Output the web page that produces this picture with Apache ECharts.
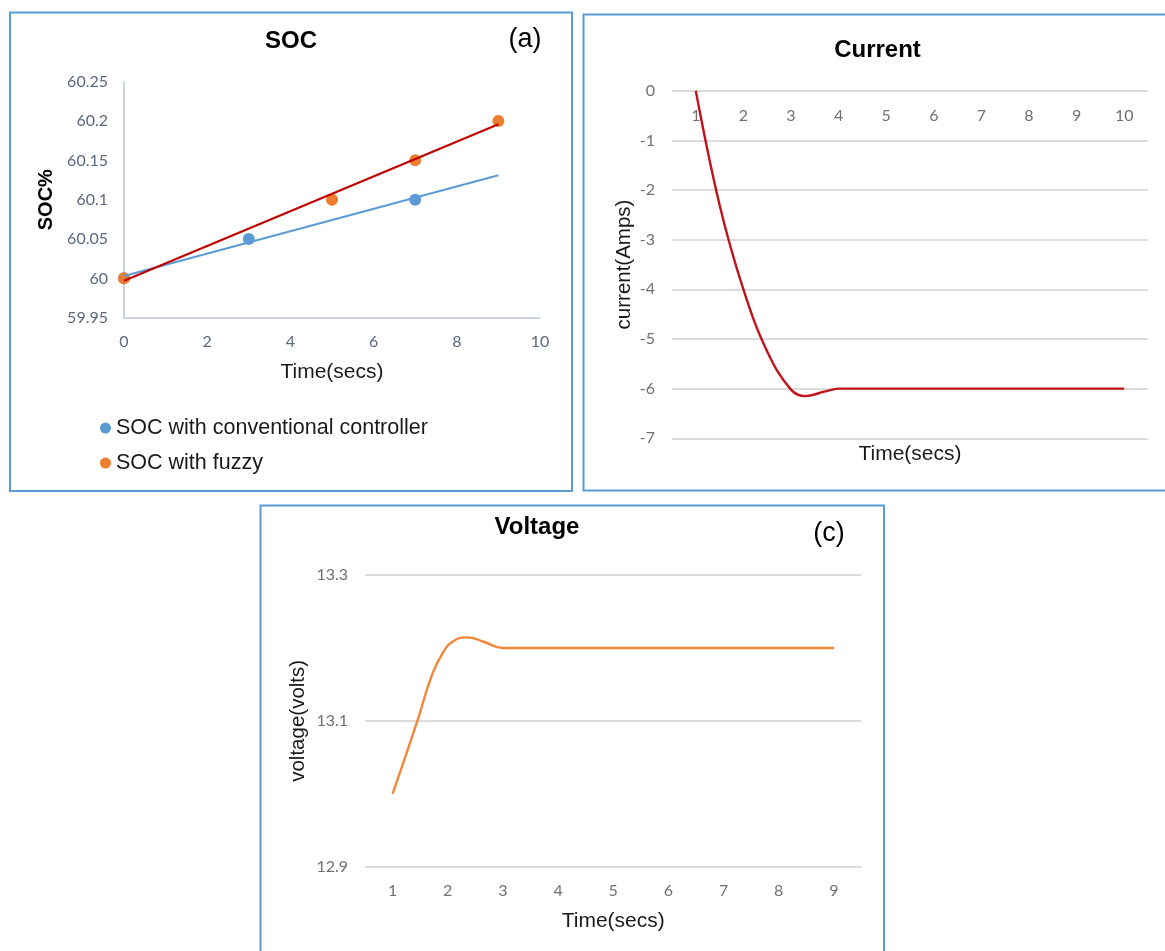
<!DOCTYPE html>
<html>
<head>
<meta charset="utf-8">
<script src="https://cdn.jsdelivr.net/npm/echarts@6/dist/echarts.min.js"></script>
<style>
  html, body { margin: 0; padding: 0; background: #ffffff; }
  #chart { width: 1165px; height: 951px; }
</style>
</head>
<body>
<div id="chart"></div>
<script>
// ---- Panel (a): SOC ----
const socConvTime = [0, 3, 7];
const socConvValue = [60, 60.05, 60.1];
const socFuzzyTime = [0, 5, 7, 9];
const socFuzzyValue = [60, 60.1, 60.15, 60.2];
const trendTime = [0, 9];
const socConvTrend = [60.003, 60.131];
const socFuzzyTrend = [59.997, 60.196];
const socXTicks = [0, 2, 4, 6, 8, 10];
const socYTicks = [59.95, 60, 60.05, 60.1, 60.15, 60.2, 60.25];

// ---- Panel (b): Current ----
const currentTime = [1, 1.5, 2, 2.5, 3, 3.3, 3.7, 4, 5, 6, 7, 8, 9, 10];
const currentValue = [0, -2.3, -4, -5.25, -6.02, -6.15, -6.06, -6, -6, -6, -6, -6, -6, -6];
const currentTicks = [1, 2, 3, 4, 5, 6, 7, 8, 9, 10];

// ---- Panel (c): Voltage ----
const voltageTime = [1, 1.45, 1.7, 1.9, 2.1, 2.35, 2.65, 3, 4, 5, 6, 7, 8, 9];
const voltageValue = [13.0, 13.1, 13.16, 13.192, 13.209, 13.2145, 13.2085, 13.2, 13.2, 13.2, 13.2, 13.2, 13.2, 13.2];
const voltageTicks = [1, 2, 3, 4, 5, 6, 7, 8, 9];

const zip = (xs, ys) => xs.map((x, i) => [x, ys[i]]);

const TICK_FONT = 'Lato, "Open Sans", sans-serif';
const TEXT_FONT = '"Liberation Sans", Arial, sans-serif';
const BORDER = '#5b9bd5';
const GRID_LINE = '#dcdcdc';

const chart = echarts.init(document.getElementById('chart'), null, { renderer: 'canvas' });

const tickLabel = (color, margin) => ({
  color: color, fontFamily: TICK_FONT, fontSize: 16, margin: margin
});

const option = {
  backgroundColor: '#ffffff',
  animation: false,
  graphic: [
    { type: 'rect', silent: true, z: -10, shape: { x: 10, y: 12.5, width: 562, height: 478.5 },
      style: { fill: 'none', stroke: BORDER, lineWidth: 2 } },
    { type: 'rect', silent: true, z: -10, shape: { x: 583.5, y: 14.5, width: 600, height: 476 },
      style: { fill: 'none', stroke: BORDER, lineWidth: 2 } },
    { type: 'rect', silent: true, z: -10, shape: { x: 260.5, y: 505.5, width: 623.5, height: 460 },
      style: { fill: 'none', stroke: BORDER, lineWidth: 2 } },
    { type: 'text', silent: true, x: 291, y: 41,
      style: { text: 'SOC', font: 'bold 24px ' + TEXT_FONT, fill: '#000', align: 'center', verticalAlign: 'middle' } },
    { type: 'text', silent: true, x: 525, y: 40,
      style: { text: '(a)', font: '27px ' + TEXT_FONT, fill: '#000', align: 'center', verticalAlign: 'middle' } },
    { type: 'text', silent: true, x: 877.5, y: 50,
      style: { text: 'Current', font: 'bold 24px ' + TEXT_FONT, fill: '#000', align: 'center', verticalAlign: 'middle' } },
    { type: 'text', silent: true, x: 537, y: 527,
      style: { text: 'Voltage', font: 'bold 24px ' + TEXT_FONT, fill: '#000', align: 'center', verticalAlign: 'middle' } },
    { type: 'text', silent: true, x: 829, y: 534,
      style: { text: '(c)', font: '27px ' + TEXT_FONT, fill: '#000', align: 'center', verticalAlign: 'middle' } }
  ],
  legend: {
    data: ['SOC with conventional controller', 'SOC with fuzzy'],
    orient: 'vertical',
    left: 100,
    top: 417,
    padding: 0,
    itemGap: 13,
    itemWidth: 11,
    itemHeight: 11,
    icon: 'circle',
    textStyle: { fontFamily: TEXT_FONT, fontSize: 21.5, color: '#1a1a1a' }
  },
  grid: [
    { left: 124, top: 81.7, width: 416, height: 236, outerBoundsMode: 'none', containLabel: false },
    { left: 672, top: 90.7, width: 476, height: 347.6, outerBoundsMode: 'none', containLabel: false },
    { left: 365, top: 575, width: 496.5, height: 291.7, outerBoundsMode: 'none', containLabel: false }
  ],
  xAxis: [
    {
      gridIndex: 0, type: 'value', min: socXTicks[0], max: socXTicks[socXTicks.length - 1], interval: 2,
      name: 'Time(secs)', nameLocation: 'middle', nameGap: 44,
      nameTextStyle: { fontFamily: TEXT_FONT, fontSize: 21, color: '#1a1a1a' },
      axisLine: { show: true, onZero: false, lineStyle: { color: '#b9c5d7', width: 1.5 } },
      axisTick: { show: false },
      splitLine: { show: false },
      axisLabel: tickLabel('#5a6882', 16)
    },
    {
      gridIndex: 1, type: 'value', position: 'top',
      min: currentTicks[0] - 0.5, max: currentTicks[currentTicks.length - 1] + 0.5,
      axisLine: { show: false, onZero: false },
      axisTick: { show: false },
      splitLine: { show: false },
      axisLabel: Object.assign(tickLabel('#707070', 17), { inside: true, customValues: currentTicks })
    },
    {
      gridIndex: 1, type: 'value', position: 'bottom',
      min: currentTicks[0] - 0.5, max: currentTicks[currentTicks.length - 1] + 0.5,
      name: 'Time(secs)', nameLocation: 'middle', nameGap: 5,
      nameTextStyle: { fontFamily: TEXT_FONT, fontSize: 21, color: '#1a1a1a' },
      axisLine: { show: false, onZero: false },
      axisTick: { show: false },
      axisLabel: { show: false },
      splitLine: { show: false }
    },
    {
      gridIndex: 2, type: 'value', position: 'bottom',
      min: voltageTicks[0] - 0.5, max: voltageTicks[voltageTicks.length - 1] + 0.5,
      name: 'Time(secs)', nameLocation: 'middle', nameGap: 44,
      nameTextStyle: { fontFamily: TEXT_FONT, fontSize: 21, color: '#1a1a1a' },
      axisLine: { show: false, onZero: false },
      axisTick: { show: false },
      splitLine: { show: false },
      axisLabel: Object.assign(tickLabel('#707070', 16), { customValues: voltageTicks })
    }
  ],
  yAxis: [
    {
      gridIndex: 0, type: 'value', min: socYTicks[0], max: socYTicks[socYTicks.length - 1], interval: 0.05,
      name: 'SOC%', nameLocation: 'middle', nameGap: 68, nameMoveOverlap: false,
      nameTextStyle: { fontFamily: TEXT_FONT, fontSize: 20, fontWeight: 'bold', color: '#000' },
      axisLine: { show: true, onZero: false, lineStyle: { color: '#b9c5d7', width: 1.5 } },
      axisTick: { show: false },
      splitLine: { show: false },
      axisLabel: Object.assign(tickLabel('#5a6882', 16), { formatter: v => String(+(+v).toFixed(2)) })
    },
    {
      gridIndex: 1, type: 'value', min: -7, max: 0, interval: 1,
      name: 'current(Amps)', nameLocation: 'middle', nameGap: 37, nameMoveOverlap: false,
      nameTextStyle: { fontFamily: TEXT_FONT, fontSize: 20.5, color: '#1a1a1a' },
      axisLine: { show: false },
      axisTick: { show: false },
      splitLine: { show: true, lineStyle: { color: GRID_LINE, width: 2 } },
      axisLabel: Object.assign(tickLabel('#707070', 17), { formatter: v => String(Math.round(v)) })
    },
    {
      gridIndex: 2, type: 'value', min: 12.9, max: 13.3, interval: 0.2,
      name: 'voltage(volts)', nameLocation: 'middle', nameGap: 56, nameMoveOverlap: false,
      nameTextStyle: { fontFamily: TEXT_FONT, fontSize: 20.5, color: '#1a1a1a' },
      axisLine: { show: false },
      axisTick: { show: false },
      splitLine: { show: true, lineStyle: { color: GRID_LINE, width: 2 } },
      axisLabel: Object.assign(tickLabel('#707070', 17), { formatter: v => (+v).toFixed(1) })
    }
  ],
  series: [
    {
      name: 'SOC with conventional controller', type: 'scatter', xAxisIndex: 0, yAxisIndex: 0,
      data: zip(socConvTime, socConvValue), symbol: 'circle', symbolSize: 12,
      itemStyle: { color: '#5b9bd5', opacity: 1 }, z: 2
    },
    {
      name: 'SOC with fuzzy', type: 'scatter', xAxisIndex: 0, yAxisIndex: 0,
      data: zip(socFuzzyTime, socFuzzyValue), symbol: 'circle', symbolSize: 12,
      itemStyle: { color: '#ed7d31', opacity: 1 }, z: 3
    },
    {
      name: 'conventional trend', type: 'line', xAxisIndex: 0, yAxisIndex: 0,
      data: zip(trendTime, socConvTrend), showSymbol: false, symbol: 'none',
      lineStyle: { color: '#5b9bd5', width: 2 }, z: 4
    },
    {
      name: 'fuzzy trend', type: 'line', xAxisIndex: 0, yAxisIndex: 0,
      data: zip(trendTime, socFuzzyTrend), showSymbol: false, symbol: 'none',
      lineStyle: { color: '#c00000', width: 2.2 }, z: 5
    },
    {
      name: 'Current', type: 'line', xAxisIndex: 1, yAxisIndex: 1,
      data: zip(currentTime, currentValue), smooth: 0.4, showSymbol: false, symbol: 'none',
      lineStyle: { color: '#c0131b', width: 2.4 }
    },
    {
      name: 'Voltage', type: 'line', xAxisIndex: 3, yAxisIndex: 2,
      data: zip(voltageTime, voltageValue), smooth: 0.5, showSymbol: false, symbol: 'none',
      lineStyle: { color: '#f0873a', width: 2.4 }
    }
  ]
};

chart.setOption(option);
</script>
</body>
</html>
